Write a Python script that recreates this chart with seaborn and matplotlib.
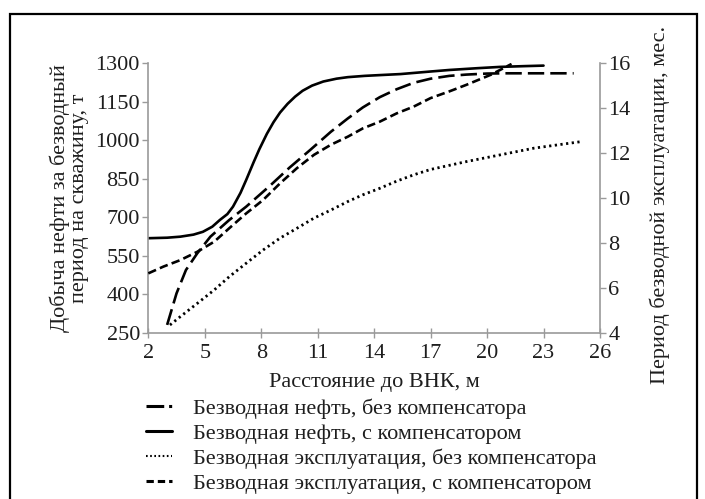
import matplotlib
matplotlib.use("Agg")
import matplotlib.pyplot as plt
import seaborn as sns
import pandas as pd
from matplotlib.patches import Rectangle
from matplotlib.lines import Line2D

sns.set_theme(style="white")
plt.rcParams['font.family'] = ['Liberation Serif', 'DejaVu Serif']

# Безводная нефть, с компенсатором (т, left axis)
x_oil_comp = [2.0, 3.0, 3.7, 4.4, 4.9, 5.4, 5.8, 6.2, 6.5, 6.9, 7.2, 7.6, 7.9, 8.3, 8.65, 9.0, 9.4, 9.8, 10.2, 10.7, 11.3, 12.0, 12.6, 13.5, 14.3, 15.4, 16.2, 17.0, 18.0, 19.5, 20.7, 22.0, 23.0]
y_oil_comp = [618, 620, 624, 632, 643, 663, 689, 712, 741, 795, 845, 915, 965, 1025, 1070, 1108, 1142, 1170, 1193, 1213, 1229, 1240, 1246, 1251, 1254, 1258, 1263, 1268, 1274, 1281, 1286, 1289, 1291]

# Безводная нефть, без компенсатора (т, left axis)
x_oil_nocomp = [3.0, 3.5, 4.0, 4.6, 5.3, 6.3, 7.2, 8.5, 9.5, 10.6, 11.7, 12.6, 13.4, 14.3, 15.2, 16.1, 17.0, 18.0, 18.9, 20.0, 21.0, 22.5, 24.6]
y_oil_nocomp = [280, 403, 494, 559, 624, 689, 741, 825, 893, 962, 1033, 1085, 1128, 1168, 1199, 1224, 1240, 1251, 1256, 1260, 1261, 1261, 1261]

# Безводная эксплуатация, без компенсатора (мес., right axis)
x_exp_nocomp = [3.15, 3.7, 4.6, 5.5, 6.3, 7.2, 8.1, 9.0, 9.9, 10.8, 11.7, 12.6, 13.4, 14.3, 15.2, 16.1, 17.0, 18.9, 20.7, 22.5, 25.0]
y_exp_nocomp = [4.34, 4.71, 5.30, 5.90, 6.49, 7.09, 7.68, 8.21, 8.65, 9.10, 9.46, 9.84, 10.14, 10.43, 10.75, 11.03, 11.27, 11.62, 11.92, 12.22, 12.51]

# Безводная эксплуатация, с компенсатором (мес., right axis)
x_exp_comp = [2.0, 2.8, 3.7, 4.6, 5.5, 6.3, 7.2, 8.1, 9.0, 9.9, 10.8, 11.7, 12.6, 13.4, 14.3, 15.2, 16.1, 17.0, 18.0, 18.9, 20.2, 21.3]
y_exp_comp = [6.64, 6.94, 7.23, 7.60, 8.05, 8.65, 9.31, 9.91, 10.65, 11.33, 11.92, 12.37, 12.73, 13.10, 13.40, 13.77, 14.07, 14.45, 14.75, 15.04, 15.49, 15.97]

labels = ["Безводная нефть, без компенсатора",
          "Безводная нефть, с компенсатором",
          "Безводная эксплуатация, без компенсатора",
          "Безводная эксплуатация, с компенсатором"]

x_ticks = [2, 5, 8, 11, 14, 17, 20, 23, 26]
y_left_ticks = [250, 400, 550, 700, 850, 1000, 1150, 1300]
y_right_ticks = [4, 6, 8, 10, 12, 14, 16]

W, H = 705, 499
fig = plt.figure(figsize=(W / 100, H / 100), dpi=100)
ax = fig.add_axes([148.3 / W, 1 - 332.6 / H, (600 - 148.3) / W, (332.6 - 63.3) / H])
ax2 = ax.twinx()

lw = 1.9
df1 = pd.DataFrame({"x": x_oil_nocomp, "y": y_oil_nocomp})
df2 = pd.DataFrame({"x": x_oil_comp, "y": y_oil_comp})
df3 = pd.DataFrame({"x": x_exp_nocomp, "y": y_exp_nocomp})
df4 = pd.DataFrame({"x": x_exp_comp, "y": y_exp_comp})

sns.lineplot(data=df1, x="x", y="y", ax=ax, color="black", lw=lw, sort=False,
             linestyle=(0, (6.2, 2.3)))
sns.lineplot(data=df2, x="x", y="y", ax=ax, color="black", lw=lw, sort=False)
sns.lineplot(data=df3, x="x", y="y", ax=ax2, color="black", lw=2.0, sort=False,
             linestyle=(0, (0.8, 1.25)))
sns.lineplot(data=df4, x="x", y="y", ax=ax2, color="black", lw=lw, sort=False,
             linestyle=(0, (3.2, 1.6)))

spine_c = "#9a9a9a"
ax.set_xlim(2, 26)
ax.set_ylim(250, 1300)
ax2.set_ylim(4, 16)
ax.set_xticks(x_ticks)
ax.set_yticks(y_left_ticks)
ax2.set_yticks(y_right_ticks)

fs = 16
tc = "#1e1e1e"
for a in (ax, ax2):
    a.spines['top'].set_visible(False)
    for s in a.spines.values():
        s.set_color(spine_c)
        s.set_linewidth(1.2)
ax.spines['right'].set_visible(False)
ax2.spines['left'].set_visible(False)
ax2.spines['bottom'].set_visible(False)

ax.tick_params(axis='x', direction='inout', length=7, width=1.0, color=spine_c,
               labelsize=fs, labelcolor=tc, pad=5, bottom=True)
ax.tick_params(axis='y', direction='out', length=4, width=1.0, color=spine_c,
               labelsize=fs, labelcolor=tc, pad=2, left=True)
ax2.tick_params(axis='y', direction='out', length=4, width=1.0, color=spine_c,
                labelsize=fs, labelcolor=tc, pad=2, right=True)

ax.set_xlabel("Расстояние до ВНК, м", fontsize=fs, color=tc, labelpad=7)
ax.set_ylabel("Добыча нефти за безводный\nпериод на скважину, т", fontsize=fs,
              color=tc, labelpad=5, linespacing=1.0)
ax2.set_ylabel("Период безводной эксплуатации, мес.", fontsize=fs, color=tc)
ax2.yaxis.set_label_coords(1.11, 0.475)
ax.grid(False)
ax2.grid(False)

handles = [
    Line2D([], [], color="black", lw=2.2, linestyle=(0, (5.8, 1.6, 1, 20))),
    Line2D([], [], color="black", lw=2.2),
    Line2D([], [], color="black", lw=1.5, linestyle=(0, (0.8, 1.2))),
    Line2D([], [], color="black", lw=2.2, linestyle=(0, (2.4, 1.3))),
]
fig.legend(handles, labels, loc="upper left", bbox_to_anchor=(146 / W, 1 - 398 / H),
           frameon=False, fontsize=fs, handlelength=1.15, handletextpad=0.95,
           labelspacing=0.2, borderaxespad=0, borderpad=0,
           labelcolor=tc)

fig.patches.append(Rectangle((10 / W, -0.05), (697 - 10) / W, 1.05 - 14 / H,
                             transform=fig.transFigure, fill=False,
                             edgecolor="black", lw=1.6))

fig.savefig("out.png", dpi=100)
